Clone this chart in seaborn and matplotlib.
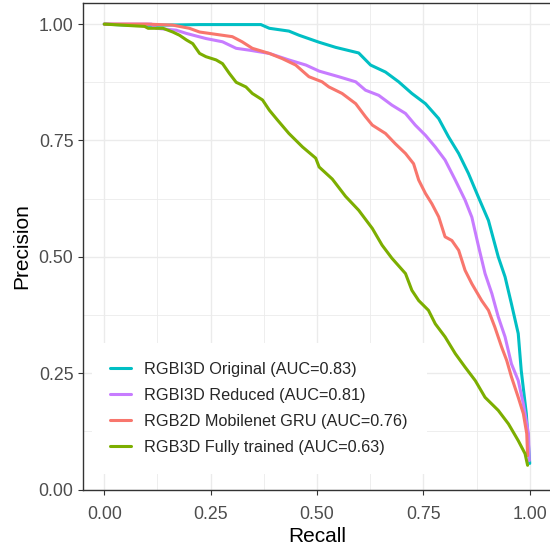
import numpy as np
import pandas as pd
import matplotlib
matplotlib.use("Agg")
import matplotlib.pyplot as plt
import seaborn as sns

# precision-recall curves
orig_recall = [0.0, 0.076, 0.224, 0.368, 0.388, 0.434, 0.458, 0.505, 0.544, 0.598, 0.626,
               0.661, 0.692, 0.723, 0.755, 0.786, 0.809, 0.833, 0.856, 0.879, 0.903, 0.926,
               0.942, 0.957, 0.973, 0.980, 0.992, 1.0]
orig_precision = [1.0, 0.997, 0.999, 0.999, 0.991, 0.985, 0.976, 0.961, 0.950, 0.938, 0.912,
                  0.897, 0.876, 0.851, 0.829, 0.797, 0.758, 0.722, 0.679, 0.629, 0.578, 0.500,
                  0.457, 0.399, 0.335, 0.256, 0.163, 0.056]

red_recall = [0.0, 0.111, 0.122, 0.169, 0.193, 0.239, 0.278, 0.310, 0.341, 0.388, 0.434,
              0.474, 0.505, 0.551, 0.591, 0.614, 0.645, 0.676, 0.708, 0.731, 0.755, 0.778,
              0.801, 0.825, 0.848, 0.864, 0.879, 0.895, 0.911, 0.926, 0.942, 0.957, 0.973,
              0.985, 0.997, 0.999]
red_precision = [1.0, 1.0, 0.991, 0.987, 0.980, 0.969, 0.962, 0.948, 0.944, 0.937, 0.923,
                  0.912, 0.899, 0.887, 0.876, 0.858, 0.847, 0.826, 0.808, 0.783, 0.761, 0.736,
                  0.708, 0.665, 0.622, 0.585, 0.525, 0.464, 0.421, 0.371, 0.328, 0.270, 0.234,
                  0.184, 0.120, 0.062]

gru_recall = [0.0, 0.100, 0.160, 0.200, 0.224, 0.278, 0.301, 0.324, 0.348, 0.388, 0.418,
              0.450, 0.481, 0.512, 0.528, 0.559, 0.591, 0.614, 0.630, 0.661, 0.684, 0.708,
              0.727, 0.739, 0.755, 0.770, 0.786, 0.801, 0.817, 0.833, 0.848, 0.864, 0.887,
              0.903, 0.918, 0.934, 0.946, 0.957, 0.973, 0.985, 0.993, 0.995]
gru_precision = [1.0, 1.0, 0.998, 0.991, 0.983, 0.976, 0.973, 0.962, 0.948, 0.937, 0.926,
                 0.912, 0.887, 0.876, 0.865, 0.851, 0.829, 0.801, 0.783, 0.765, 0.743, 0.722,
                 0.700, 0.665, 0.636, 0.614, 0.586, 0.543, 0.535, 0.514, 0.471, 0.442, 0.406,
                 0.385, 0.349, 0.306, 0.277, 0.242, 0.198, 0.163, 0.120, 0.073]

full_recall = [0.0, 0.095, 0.103, 0.138, 0.161, 0.177, 0.193, 0.208, 0.224, 0.239, 0.263,
               0.278, 0.294, 0.310, 0.333, 0.348, 0.372, 0.388, 0.407, 0.434, 0.466, 0.497,
               0.505, 0.536, 0.567, 0.598, 0.630, 0.653, 0.676, 0.708, 0.723, 0.739, 0.762,
               0.778, 0.801, 0.825, 0.848, 0.872, 0.895, 0.926, 0.950, 0.973, 0.989, 0.995]
full_precision = [1.0, 0.995, 0.991, 0.991, 0.983, 0.976, 0.966, 0.958, 0.937, 0.930, 0.923,
                  0.915, 0.894, 0.875, 0.865, 0.851, 0.837, 0.815, 0.794, 0.765, 0.736, 0.712,
                  0.693, 0.667, 0.630, 0.600, 0.561, 0.525, 0.497, 0.464, 0.428, 0.406, 0.385,
                  0.356, 0.328, 0.292, 0.263, 0.234, 0.198, 0.170, 0.141, 0.105, 0.077, 0.052]

labels = ["RGBI3D Original (AUC=0.83)", "RGBI3D Reduced (AUC=0.81)",
          "RGB2D Mobilenet GRU (AUC=0.76)", "RGB3D Fully trained (AUC=0.63)"]
colors = ["#00BFC4", "#C77CFF", "#F8766D", "#7CAE00"]

curves = [(orig_recall, orig_precision), (red_recall, red_precision),
          (gru_recall, gru_precision), (full_recall, full_precision)]
frames = []
for lab, (r, p) in zip(labels, curves):
    frames.append(pd.DataFrame({"Recall": r, "Precision": p, "model": lab,
                                "order": np.arange(len(r))}))
df = pd.concat(frames, ignore_index=True)

sns.set_style("white")
plt.rcParams["font.family"] = ["Liberation Sans", "DejaVu Sans"]

fig = plt.figure(figsize=(5.5, 5.46), dpi=100)
ax = fig.add_axes([83 / 550, (546 - 489.5) / 546, (551 - 83) / 550, (489.5 - 2.7) / 546])

sns.lineplot(data=df, x="Recall", y="Precision", hue="model", hue_order=labels,
             palette=colors, sort=False, estimator=None, linewidth=2.2, ax=ax)

ax.set_xlim(-0.05, 1.05)
ax.set_ylim(0, 1.046)
ticks = [0, 0.25, 0.5, 0.75, 1.0]
ax.set_xticks(ticks)
ax.set_yticks(ticks)
ax.set_xticklabels(["0.00", "0.25", "0.50", "0.75", "1.00"])
ax.set_yticklabels(["0.00", "0.25", "0.50", "0.75", "1.00"])
ax.set_xticks([0.125, 0.375, 0.625, 0.875], minor=True)
ax.set_yticks([0.125, 0.375, 0.625, 0.875], minor=True)
ax.grid(True, which="major", color="#EBEBEB", linewidth=1.0)
ax.grid(True, which="minor", color="#EBEBEB", linewidth=0.6)
ax.set_axisbelow(True)
ax.tick_params(which="major", length=3.6, width=0.8, color="#333333",
               labelsize=12.8, labelcolor="#4D4D4D", bottom=True, left=True)
ax.tick_params(axis="x", which="major", pad=8.3)
ax.tick_params(axis="y", which="major", pad=3.3)
ax.tick_params(which="minor", length=0)
for s in ax.spines.values():
    s.set_color("#333333")
    s.set_linewidth(1.0)

ax.set_xlabel("Recall", fontsize=15, color="black", labelpad=3)
ax.set_ylabel("Precision", fontsize=15, color="black", labelpad=5)

leg = ax.legend(loc="center", bbox_to_anchor=(259 / 550, 1 - 408.5 / 546),
                bbox_transform=fig.transFigure, fontsize=11.7, frameon=True,
                handlelength=1.25, handletextpad=0.85, labelspacing=0.68,
                borderpad=1.15, fancybox=False)
leg.get_frame().set_facecolor("white")
leg.get_frame().set_edgecolor("none")
leg.get_frame().set_alpha(1)
for line in leg.get_lines():
    line.set_linewidth(2.2)

fig.savefig("out.png", dpi=100)
